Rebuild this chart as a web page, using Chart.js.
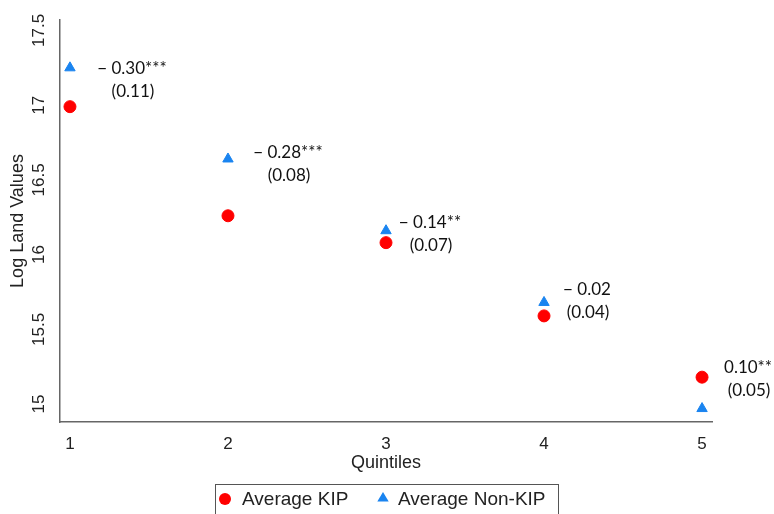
<!DOCTYPE html>
<html>
<head>
<meta charset="utf-8">
<script src="https://cdn.jsdelivr.net/npm/chart.js@4/dist/chart.umd.min.js"></script>
<style>
  html, body { margin: 0; padding: 0; background: #fff; }
  #wrap { width: 774px; height: 514px; }
</style>
</head>
<body>
<div id="wrap"><canvas id="grafico"></canvas></div>
<script>
// Quintis e médias
const quintis = [1, 2, 3, 4, 5];
const mediaKIP = [16.99, 16.26, 16.08, 15.59, 15.18];
const mediaNaoKIP = [17.25, 16.64, 16.16, 15.68, 14.97];
const ticksY = [15, 15.5, 16, 16.5, 17, 17.5];
const coeficientes = ['\u2212 0.30***', '\u2212 0.28***', '\u2212 0.14**', '\u2212 0.02', '0.10**'];
const errosPadrao = ['(0.11)', '(0.08)', '(0.07)', '(0.04)', '(0.05)'];

const fonteEixo = '"Liberation Sans", Arial, sans-serif';
const fonteNota = 'Lato, "Open Sans", sans-serif';
const corEixo = '#666';
const corKIP = '#ff0000';
const corNaoKIP = '#1a84f0';

function simbolo(ctx, estilo, cor, x, y, r) {
    ctx.fillStyle = cor;
    ctx.beginPath();
    if (estilo === 'circle') {
        ctx.arc(x, y, r, 0, Math.PI * 2);
    } else {
        ctx.moveTo(x, y - r);
        ctx.lineTo(x + r * 0.95, y + r * 0.6);
        ctx.lineTo(x - r * 0.95, y + r * 0.6);
        ctx.closePath();
    }
    ctx.fill();
}

// Rótulos do eixo Y girados, título do eixo Y, notas e legenda emoldurada
const extras = {
    id: 'extras',
    afterDraw(chart) {
        const ctx = chart.ctx;
        const y = chart.scales.y;
        const x = chart.scales.x;
        ctx.save();
        ctx.fillStyle = '#222';
        ctx.font = '17px ' + fonteEixo;
        ctx.textAlign = 'center';
        ctx.textBaseline = 'middle';
        y.ticks.forEach(function(t) {
            const py = y.getPixelForValue(t.value);
            ctx.save();
            ctx.translate(y.right - 21, py);
            ctx.rotate(-Math.PI / 2);
            ctx.fillText(String(t.value), 0, 0);
            ctx.restore();
        });
        ctx.save();
        ctx.translate(18, (chart.chartArea.top + chart.chartArea.bottom) / 2);
        ctx.rotate(-Math.PI / 2);
        ctx.font = '18px ' + fonteEixo;
        ctx.fillText('Log Land Values', 0, 0);
        ctx.restore();

        // notas com coeficiente e erro padrão
        const deslocX = [62, 60, 44, 43, 46];
        const deslocY = [1, -6, -8, -13, -10];
        ctx.font = '17px ' + fonteNota;
        ctx.fillStyle = '#111';
        quintis.forEach(function(q, i) {
            const px = x.getPixelForValue(q) + deslocX[i];
            const topo = y.getPixelForValue(Math.max(mediaKIP[i], mediaNaoKIP[i])) + deslocY[i];
            ctx.fillText(coeficientes[i], px, topo);
            ctx.fillText(errosPadrao[i], px + 1, topo + 23);
        });

        // legenda
        const sets = chart.data.datasets;
        ctx.strokeStyle = '#555';
        ctx.lineWidth = 1;
        ctx.strokeRect(215.5, 484.5, 343, 40);
        ctx.font = '19px ' + fonteEixo;
        ctx.textAlign = 'left';
        simbolo(ctx, 'circle', sets[0].backgroundColor, 225, 499, 6);
        ctx.fillStyle = '#222';
        ctx.fillText(sets[0].label, 242, 500);
        simbolo(ctx, 'triangle', sets[1].backgroundColor, 383, 498, 6);
        ctx.fillStyle = '#222';
        ctx.fillText(sets[1].label, 398, 500);
        ctx.restore();
    }
};

new Chart(document.getElementById('grafico'), {
    type: 'scatter',
    data: {
        datasets: [{
            label: 'Average KIP',
            data: quintis.map((q, i) => ({ x: q, y: mediaKIP[i] })),
            backgroundColor: corKIP,
            borderColor: corKIP,
            pointStyle: 'circle',
            pointRadius: 6,
            pointHoverRadius: 6
        }, {
            label: 'Average Non-KIP',
            data: quintis.map((q, i) => ({ x: q, y: mediaNaoKIP[i] })),
            backgroundColor: corNaoKIP,
            borderColor: corNaoKIP,
            pointStyle: 'triangle',
            pointRadius: 6,
            pointHoverRadius: 6
        }]
    },
    options: {
        responsive: true,
        maintainAspectRatio: false,
        animation: false,
        layout: { padding: { top: 20, right: 62, left: 0, bottom: 40 } },
        plugins: {
            tooltip: { enabled: false },
            legend: { display: false }
        },
        scales: {
            x: {
                type: 'linear',
                min: 0.937,
                max: 5.063,
                afterBuildTicks: function(s) { s.ticks = quintis.map(v => ({ value: v })); },
                afterFit: function(s) { s.height = 52; },
                grid: { display: false, drawTicks: true, tickLength: 6, tickColor: corEixo },
                border: { color: corEixo, width: 1.5 },
                ticks: { color: '#222', font: { size: 17, family: fonteEixo }, padding: 6, maxRotation: 0 },
                title: { display: true, text: 'Quintiles', color: '#222', font: { size: 18, family: fonteEixo }, padding: 0 }
            },
            y: {
                type: 'linear',
                min: 14.88,
                max: 17.57,
                afterBuildTicks: function(s) { s.ticks = ticksY.map(v => ({ value: v })); },
                afterFit: function(s) { s.width = 60; },
                grid: { display: false, drawTicks: true, tickLength: 6, tickColor: corEixo },
                border: { color: corEixo, width: 1.5 },
                ticks: { display: false }
            }
        }
    },
    plugins: [extras]
});
</script>
</body>
</html>
